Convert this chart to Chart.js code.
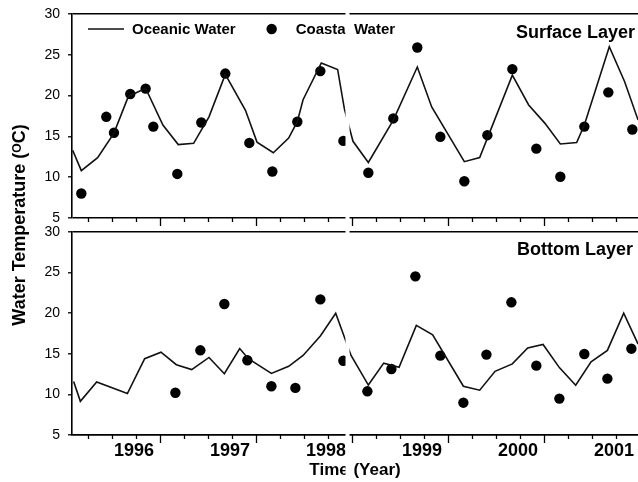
<!DOCTYPE html>
<html><head><meta charset="utf-8">
<script src="https://cdn.jsdelivr.net/npm/chart.js@4.4.1/dist/chart.umd.min.js"></script>
<style>html,body{margin:0;padding:0;background:#fff}#wrap{position:relative;width:638px;height:482px}</style>
</head><body><div id="wrap"><canvas id="c"></canvas></div>
<script>
// ---- data ----
const yearLabels = ['1996','1997','1998','1999','2000','2001'];
const tempTicks = [5, 10, 15, 20, 25, 30];
const panelNames = ['Surface Layer', 'Bottom Layer'];
const seriesNames = ['Oceanic Water', 'Coastal Water'];
const axisTitleY = 'Water Temperature (\u1D3CC)';
const axisTitleX = 'Time (Year)';

const surfOceanYears = [1995.34,1995.43,1995.60,1995.77,1995.92,1996.10,1996.28,1996.44,1996.60,1996.76,1996.93,1997.14,1997.26,1997.43,1997.59,1997.68,1997.74,1997.93,1998.10,1998.17,1998.26,1998.42,1998.68,1998.93,1999.08,1999.42,1999.58,1999.92,2000.09,2000.26,2000.42,2000.59,2000.67,2000.93,2001.09,2001.23];
const surfOceanTemps = [13.3,10.8,12.4,15.4,19.9,20.9,16.4,14.0,14.15,17.4,22.6,18.2,14.3,13.0,14.8,16.8,19.5,24.0,23.2,18.4,14.4,11.8,17.0,23.5,18.6,11.9,12.4,22.5,18.85,16.6,14.07,14.25,16.4,26.0,21.7,17.0];

const surfCoastYears = [1995.43,1995.69,1995.77,1995.94,1996.10,1996.18,1996.43,1996.68,1996.93,1997.18,1997.42,1997.68,1997.92,1998.16,1998.42,1998.68,1998.93,1999.17,1999.42,1999.66,1999.92,2000.17,2000.42,2000.67,2000.92,2001.17];
const surfCoastTemps = [8.0,17.4,15.45,20.2,20.85,16.2,10.4,16.7,22.7,14.2,10.7,16.8,23.0,14.45,10.55,17.2,25.9,14.95,9.5,15.15,23.25,13.5,10.05,16.2,20.4,15.85];

const botOceanYears = [1995.35,1995.42,1995.59,1995.91,1996.09,1996.26,1996.42,1996.58,1996.76,1996.92,1997.08,1997.17,1997.41,1997.59,1997.74,1997.92,1998.08,1998.24,1998.42,1998.58,1998.74,1998.92,1999.09,1999.41,1999.58,1999.74,1999.92,2000.08,2000.24,2000.41,2000.58,2000.74,2000.91,2001.08,2001.23];
const botOceanTemps = [11.6,9.15,11.53,10.1,14.4,15.2,13.66,13.05,14.55,12.55,15.65,14.4,12.58,13.46,14.8,17.2,20.0,14.8,11.15,13.85,13.35,18.5,17.35,11.0,10.52,12.84,13.76,15.72,16.15,13.3,11.13,14.0,15.42,20.0,16.2];

const botCoastYears = [1996.41,1996.67,1996.92,1997.16,1997.41,1997.66,1997.92,1998.16,1998.41,1998.66,1998.91,1999.17,1999.41,1999.65,1999.91,2000.17,2000.41,2000.67,2000.91,2001.16];
const botCoastTemps = [10.2,15.43,21.13,14.2,11.0,10.8,21.7,14.15,10.38,13.13,24.54,14.77,8.98,14.9,21.34,13.54,9.48,14.98,11.94,15.63];

// x range shown (scan is cropped) and the blank break stripe in the scan
const xMin = 1995.333, xMax = 2001.229;
const breakFrom = 1998.182, breakTo = 1998.224;

// ---- build ----
const FONT = 'Liberation Sans, Arial, sans-serif';
const pairs = (xs, ys) => xs.map((x, i) => ({x: x, y: ys[i]}));

const lineStyle = {type: 'line', borderColor: '#111', borderWidth: 1.6, pointRadius: 0, tension: 0, fill: false};
const dotStyle = {type: 'scatter', backgroundColor: '#000', borderWidth: 0, pointRadius: 5.2, showLine: false};

const edgeGrid = {
  color: c => (c.tick && (c.tick.value === 30 || c.tick.value === 5)) ? '#000' : 'rgba(0,0,0,0)',
  lineWidth: 1.6, tickColor: '#000', tickLength: 4, tickWidth: 1.3
};
const yPanel = (w, weight) => ({
  type: 'linear', position: 'left', stack: 'temp', stackWeight: w, weight: weight,
  min: 5, max: 30,
  afterBuildTicks: s => { s.ticks = tempTicks.map(v => ({value: v})); },
  ticks: {font: {family: FONT, size: 14}, color: '#000', padding: 8},
  grid: edgeGrid,
  border: {display: true, color: '#000', width: 1.6},
  afterFit: s => { s.width = 72; s.paddingTop = 0; s.paddingBottom = 0; }
});

const decor = {
  id: 'decor',
  afterDraw(chart) {
    const ctx = chart.ctx, xs = chart.scales.x, ca = chart.chartArea;
    const yT = chart.scales.yTop, yB = chart.scales.yBot;
    ctx.save();
    // quarterly tick marks below each panel (long ones a quarter after each labelled year)
    ctx.strokeStyle = '#000'; ctx.lineWidth = 1.3;
    [yT, yB].forEach(ys => {
      xs.ticks.forEach(t => {
        const f = t.value - Math.floor(t.value);
        const major = Math.abs(f - 0.25) < 1e-6;
        const px = Math.round(xs.getPixelForValue(t.value)) + 0.5;
        ctx.beginPath(); ctx.moveTo(px, ys.bottom); ctx.lineTo(px, ys.bottom + (major ? 8 : 4)); ctx.stroke();
      });
    });
    // legend
    ctx.fillStyle = '#000';
    ctx.font = 'bold 15px ' + FONT;
    ctx.textBaseline = 'middle'; ctx.textAlign = 'left';
    const ly = yT.top + 15;
    let lx = ca.left + 16;
    ctx.lineWidth = 1.6; ctx.strokeStyle = '#111';
    ctx.beginPath(); ctx.moveTo(lx, ly); ctx.lineTo(lx + 36, ly); ctx.stroke();
    lx += 44;
    ctx.fillText(seriesNames[0], lx, ly + 0.5);
    lx += ctx.measureText(seriesNames[0]).width + 36;
    ctx.beginPath(); ctx.arc(lx, ly, 5.2, 0, Math.PI * 2); ctx.fill();
    ctx.fillText(seriesNames[1], lx + 24, ly + 0.5);
    // panel names
    ctx.font = 'bold 18px ' + FONT;
    ctx.textAlign = 'right';
    ctx.fillText(panelNames[0], ca.right - 3, yT.top + 19);
    ctx.fillText(panelNames[1], ca.right - 5, yB.top + 18);
    // blank stripe of the scanned original
    const g1 = xs.getPixelForValue(breakFrom), g2 = xs.getPixelForValue(breakTo);
    ctx.fillStyle = '#fff';
    ctx.fillRect(g1, 0, g2 - g1, chart.height);
    ctx.restore();
  }
};

new Chart(document.getElementById('c'), {
  data: {
    datasets: [
      Object.assign({label: seriesNames[0], data: pairs(surfOceanYears, surfOceanTemps), yAxisID: 'yTop'}, lineStyle),
      Object.assign({label: seriesNames[1], data: pairs(surfCoastYears, surfCoastTemps), yAxisID: 'yTop'}, dotStyle),
      Object.assign({label: seriesNames[0], data: pairs(botOceanYears, botOceanTemps), yAxisID: 'yBot'}, lineStyle),
      Object.assign({label: seriesNames[1], data: pairs(botCoastYears, botCoastTemps), yAxisID: 'yBot'}, dotStyle)
    ]
  },
  options: {
    responsive: true, maintainAspectRatio: false, animation: false, devicePixelRatio: 1,
    layout: {autoPadding: false, padding: {top: 14, left: 0, right: 0, bottom: 0}},
    plugins: {legend: {display: false}, tooltip: {enabled: false}},
    scales: {
      x: {
        type: 'linear', position: 'bottom', min: xMin, max: xMax,
        afterBuildTicks: s => {
          const t = [];
          for (let q = Math.ceil(xMin * 4) / 4; q <= xMax; q += 0.25) t.push({value: Math.round(q * 100) / 100});
          s.ticks = t;
        },
        ticks: {
          autoSkip: false, maxRotation: 0, minRotation: 0, padding: 5, labelOffset: -2,
          font: {family: FONT, size: 18, weight: 'bold'}, color: '#000',
          callback: v => Number.isInteger(v) ? (yearLabels[v - 1996] || '') : ''
        },
        grid: {display: false, drawTicks: false},
        border: {display: true, color: '#000', width: 1.6},
        title: {display: true, text: axisTitleX, color: '#000', font: {family: FONT, size: 17, weight: 'bold'}, padding: {top: 0, bottom: 1}},
        afterFit: s => { s.height = 47; s.paddingLeft = 0; s.paddingRight = 0; }
      },
      yTop: yPanel(204, 3),
      ySpacer: {
        type: 'linear', position: 'left', stack: 'temp', stackWeight: 14, weight: 2, min: 0, max: 1,
        ticks: {display: false}, grid: {display: false, drawTicks: false}, border: {display: false},
        title: {display: true, text: axisTitleY, color: '#000', font: {family: FONT, size: 18, weight: 'bold'}, padding: {top: 9, bottom: 0}},
        afterFit: s => { s.width = 72; s.paddingTop = 0; s.paddingBottom = 0; }
      },
      yBot: yPanel(203, 1)
    }
  },
  plugins: [decor]
});
</script>
</body></html>
